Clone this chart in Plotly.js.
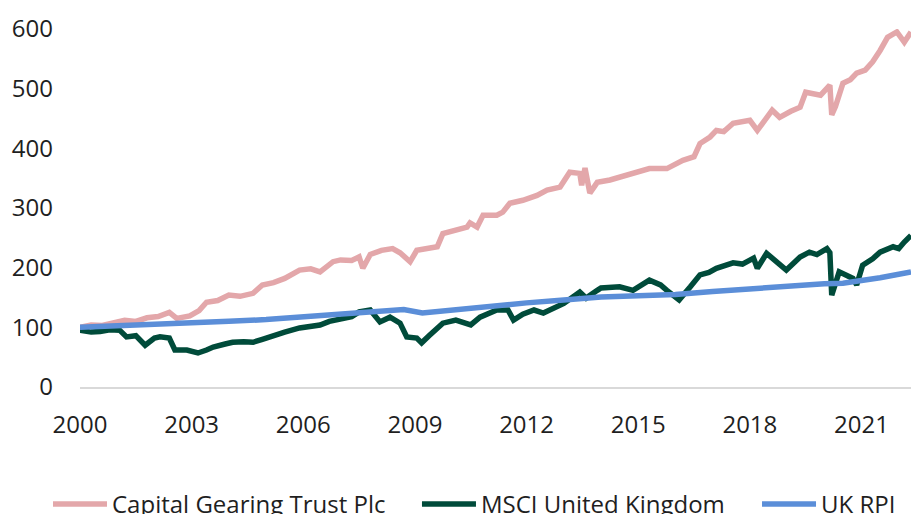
<!DOCTYPE html>
<html>
<head>
<meta charset="utf-8">
<script src="https://cdn.plot.ly/plotly-3.0.1.min.js"></script>
<style>html,body{margin:0;padding:0;background:#fff;}#chart{width:911px;height:514px;}</style>
</head>
<body>
<div id="chart"></div>
<script>
// Capital Gearing Trust Plc (rebased to 100)
const cgtYears = [2000.0,2000.3,2000.6,2000.9,2001.2,2001.5,2001.8,2002.1,2002.4,2002.6,2002.95,2003.2,2003.4,2003.7,2004.0,2004.3,2004.65,2004.9,2005.2,2005.5,2005.7,2005.9,2006.2,2006.45,2006.8,2007.0,2007.3,2007.5,2007.6,2007.8,2008.1,2008.4,2008.6,2008.87,2009.05,2009.3,2009.6,2009.75,2010.1,2010.4,2010.48,2010.67,2010.83,2011.2,2011.36,2011.55,2011.9,2012.28,2012.55,2012.9,2013.16,2013.43,2013.48,2013.57,2013.7,2013.9,2014.24,2014.5,2014.78,2015.0,2015.3,2015.77,2016.2,2016.5,2016.66,2016.93,2017.1,2017.3,2017.55,2018.0,2018.2,2018.6,2018.8,2019.1,2019.35,2019.5,2019.9,2020.15,2020.2,2020.3,2020.5,2020.7,2020.87,2021.1,2021.3,2021.5,2021.7,2021.95,2022.15,2022.33];
const cgtValues = [100,104,103,108,112,110,116,118,125,115,119,128,142,145,154,152,157,171,175,182,188,196,198,193,210,213,212,218,199,222,229,232,225,210,229,232,235,257,262,268,275,268,288,288,293,308,313,321,330,335,360,358,338,367,325,343,347,352,358,362,366,366,380,386,408,419,430,428,442,447,430,464,452,462,469,494,489,506,456,470,509,515,526,531,545,564,586,595,578,595];

// MSCI United Kingdom (rebased to 100)
const msciYears = [2000.0,2000.3,2000.54,2000.8,2001.07,2001.25,2001.5,2001.75,2002.0,2002.15,2002.4,2002.55,2002.87,2003.17,2003.4,2003.58,2003.9,2004.1,2004.4,2004.65,2004.9,2005.2,2005.5,2005.9,2006.2,2006.45,2006.7,2007.0,2007.3,2007.5,2007.8,2008.06,2008.33,2008.6,2008.78,2009.05,2009.18,2009.4,2009.75,2010.1,2010.4,2010.5,2010.75,2011.2,2011.5,2011.65,2011.9,2012.2,2012.45,2012.7,2013.0,2013.43,2013.6,2013.9,2014.0,2014.5,2014.86,2015.3,2015.6,2015.77,2016.1,2016.4,2016.66,2016.9,2017.1,2017.55,2017.8,2018.1,2018.2,2018.45,2018.7,2018.98,2019.35,2019.6,2019.8,2020.07,2020.15,2020.2,2020.4,2020.6,2020.77,2020.87,2021.03,2021.3,2021.5,2021.85,2022.0,2022.15,2022.33];
const msciValues = [95,92,93,96,95,84,86,70,82,84,82,62,62,57,62,67,72,75,76,75,80,87,92,99,102,104,110,115,118,126,129,109,117,107,84,82,74,87,107,112,107,104,117,129,129,112,122,129,124,132,140,159,149,162,166,168,162,179,171,162,146,168,188,192,199,208,206,216,199,224,212,196,218,226,222,232,225,154,193,188,182,171,204,215,226,235,232,243,254];

// UK RPI (rebased to 100)
const rpiYears = [2000.0,2001,2002,2003,2004,2005,2006,2007,2008,2008.7,2009.2,2010,2011,2012,2013,2014,2015,2016,2017,2018,2019,2020,2020.5,2021,2021.5,2022,2022.33];
const rpiValues = [100,102,104,106,110,113,117,121,126,130,124,129,136,141,146,151,153,155,160,165,170,173,174,178,183,189,193];

const seriesNames = ["Capital Gearing Trust Plc","MSCI United Kingdom","UK RPI"];
const xTickVals = [2000,2003,2006,2009,2012,2015,2018,2021];
const xTickText = ["2000","2003","2006","2009","2012","2015","2018","2021"];
const yTickVals = [0,100,200,300,400,500,600];

const traces = [
  {x: cgtYears, y: cgtValues, name: seriesNames[0], type: "scatter", mode: "lines",
   line: {color: "#E3A7AA", width: 5.5}, legend: "legend"},
  {x: msciYears, y: msciValues, name: seriesNames[1], type: "scatter", mode: "lines",
   line: {color: "#004B3A", width: 5.5}, legend: "legend2"},
  {x: rpiYears, y: rpiValues, name: seriesNames[2], type: "scatter", mode: "lines",
   line: {color: "#5B8ED8", width: 5.5}, legend: "legend3"}
];

function legendAt(xPos) {
  return {orientation: "h", x: xPos, xanchor: "left", y: -0.328, yanchor: "middle",
          font: {size: 24, color: "#1f1f1f"}, itemwidth: 54, bgcolor: "rgba(0,0,0,0)",
          borderwidth: 0};
}

const layout = {
  width: 911, height: 514,
  margin: {l: 80, r: 0, t: 29, b: 127, pad: 0, autoexpand: false},
  paper_bgcolor: "#ffffff", plot_bgcolor: "#ffffff",
  font: {family: "Open Sans, sans-serif", size: 24, color: "#1f1f1f"},
  showlegend: true,
  legend: legendAt(-0.0385),
  legend2: legendAt(0.4055),
  legend3: legendAt(0.8147),
  xaxis: {
    range: [2000, 2022.33], tickmode: "array", tickvals: xTickVals, ticktext: xTickText,
    showgrid: false, zeroline: false, showline: true, linecolor: "#D9D9D9", linewidth: 2,
    ticks: "", ticklabelstandoff: 15, tickfont: {size: 24}, fixedrange: true
  },
  yaxis: {
    range: [0, 600], tickmode: "array", tickvals: yTickVals,
    showgrid: false, zeroline: false, showline: false,
    ticks: "", ticklabelstandoff: 26, tickfont: {size: 24}, fixedrange: true
  }
};

Plotly.newPlot("chart", traces, layout, {displayModeBar: false, staticPlot: true});
</script>
</body>
</html>
